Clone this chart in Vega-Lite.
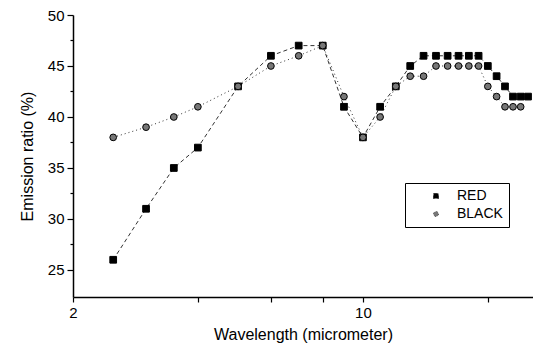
{
  "$schema": "https://vega.github.io/schema/vega-lite/v6.json",
  "width": 460,
  "height": 282,
  "autosize": "none",
  "padding": {"left": 73, "top": 15, "right": 0, "bottom": 52},
  "config": {
    "view": {"stroke": null},
    "font": "Liberation Sans",
    "axis": {"grid": false, "domainColor": "black", "tickColor": "black", "labelColor": "black", "titleColor": "black", "labelFontSize": 15, "titleFontSize": 16, "titleFontWeight": "normal", "domainWidth": 1.5, "tickWidth": 1.2}
  },
  "data": {"values": [
    {"wl": 2.5, "v": 26, "s": "RED"}, {"wl": 3, "v": 31, "s": "RED"}, {"wl": 3.5, "v": 35, "s": "RED"}, {"wl": 4, "v": 37, "s": "RED"}, {"wl": 5, "v": 43, "s": "RED"}, {"wl": 6, "v": 46, "s": "RED"}, {"wl": 7, "v": 47, "s": "RED"}, {"wl": 8, "v": 47, "s": "RED"}, {"wl": 9, "v": 41, "s": "RED"}, {"wl": 10, "v": 38, "s": "RED"}, {"wl": 11, "v": 41, "s": "RED"}, {"wl": 12, "v": 43, "s": "RED"}, {"wl": 13, "v": 45, "s": "RED"}, {"wl": 14, "v": 46, "s": "RED"}, {"wl": 15, "v": 46, "s": "RED"}, {"wl": 16, "v": 46, "s": "RED"}, {"wl": 17, "v": 46, "s": "RED"}, {"wl": 18, "v": 46, "s": "RED"}, {"wl": 19, "v": 46, "s": "RED"}, {"wl": 20, "v": 45, "s": "RED"}, {"wl": 21, "v": 44, "s": "RED"}, {"wl": 22, "v": 43, "s": "RED"}, {"wl": 23, "v": 42, "s": "RED"}, {"wl": 24, "v": 42, "s": "RED"}, {"wl": 25, "v": 42, "s": "RED"},
    {"wl": 2.5, "v": 38, "s": "BLACK"}, {"wl": 3, "v": 39, "s": "BLACK"}, {"wl": 3.5, "v": 40, "s": "BLACK"}, {"wl": 4, "v": 41, "s": "BLACK"}, {"wl": 5, "v": 43, "s": "BLACK"}, {"wl": 6, "v": 45, "s": "BLACK"}, {"wl": 7, "v": 46, "s": "BLACK"}, {"wl": 8, "v": 47, "s": "BLACK"}, {"wl": 9, "v": 42, "s": "BLACK"}, {"wl": 10, "v": 38, "s": "BLACK"}, {"wl": 11, "v": 40, "s": "BLACK"}, {"wl": 12, "v": 43, "s": "BLACK"}, {"wl": 13, "v": 44, "s": "BLACK"}, {"wl": 14, "v": 44, "s": "BLACK"}, {"wl": 15, "v": 45, "s": "BLACK"}, {"wl": 16, "v": 45, "s": "BLACK"}, {"wl": 17, "v": 45, "s": "BLACK"}, {"wl": 18, "v": 45, "s": "BLACK"}, {"wl": 19, "v": 45, "s": "BLACK"}, {"wl": 20, "v": 43, "s": "BLACK"}, {"wl": 21, "v": 42, "s": "BLACK"}, {"wl": 22, "v": 41, "s": "BLACK"}, {"wl": 23, "v": 41, "s": "BLACK"}, {"wl": 24, "v": 41, "s": "BLACK"}
  ]},
  "resolve": {"axis": {"y": "independent"}},
  "layer": [
    {"mark": {"type": "line", "color": "#333", "strokeWidth": 1},
     "encoding": {
       "x": {"field": "wl", "type": "quantitative", "scale": {"type": "log", "domain": [2, 25.7], "nice": false},
         "axis": {"title": "Wavelength (micrometer)", "values": [2, 4, 6, 8, 10, 20], "labelExpr": "datum.value == 2 || datum.value == 10 ? datum.label : ''", "format": "~g", "tickSize": 5, "titlePadding": 6, "labelPadding": 3, "labelFlush": false}},
       "y": {"field": "v", "type": "quantitative", "scale": {"domain": [22.35, 50], "nice": false, "zero": false},
         "axis": {"orient": "left", "title": null, "values": [27.5, 32.5, 37.5, 42.5, 47.5], "labels": false, "tickSize": 3, "domain": false}},
       "strokeDash": {"field": "s", "type": "nominal", "scale": {"domain": ["RED", "BLACK"], "range": [[4, 3], [1, 3]]}}}},
    {"mark": {"type": "point", "filled": true, "opacity": 1, "size": 45, "strokeWidth": 1},
     "encoding": {
       "x": {"field": "wl", "type": "quantitative"},
       "y": {"field": "v", "type": "quantitative",
         "axis": {"orient": "left", "title": "Emission ratio (%)", "values": [25, 30, 35, 40, 45, 50], "tickSize": 6, "labelPadding": 3, "titlePadding": 12}},
       "shape": {"field": "s", "type": "nominal", "scale": {"domain": ["RED", "BLACK"], "range": ["square", "circle"]},
         "legend": {"title": null, "orient": "none", "legendX": 332, "legendY": 168, "strokeColor": "black", "padding": 6, "labelFontSize": 14, "labelColor": "black", "symbolSize": 25, "symbolOffset": 18, "symbolStrokeColor": "black", "symbolStrokeWidth": 1, "rowPadding": 4, "labelOffset": 14}},
       "fill": {"field": "s", "type": "nominal", "scale": {"domain": ["RED", "BLACK"], "range": ["black", "#777"]}},
       "stroke": {"value": "black"}
     }}
  ]
}
